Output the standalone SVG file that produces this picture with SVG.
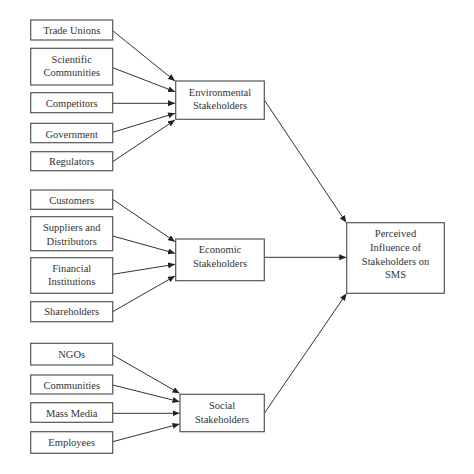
<svg xmlns="http://www.w3.org/2000/svg" width="474" height="474" viewBox="0 0 474 474">
<defs>
<marker id="ah" markerWidth="7" markerHeight="6" refX="7" refY="3" orient="auto" markerUnits="userSpaceOnUse">
<path d="M0,0 L7,3 L0,6 Z" fill="#222"/>
</marker>
<style>
rect{fill:#fff;stroke:#555;stroke-width:1.2}
text{font-family:"Liberation Serif","Times New Roman",serif;font-size:10.5px;fill:#333;text-anchor:middle}
#connectors line{stroke:#333;stroke-width:1;marker-end:url(#ah)}
</style>
</defs>
<rect x="0" y="0" width="474" height="474" style="fill:#fff;stroke:none"/>
<g id="connectors">
<line x1="112.7" y1="30.7" x2="175" y2="81"/>
<line x1="112.7" y1="67.7" x2="175" y2="91.7"/>
<line x1="112.7" y1="103.3" x2="175" y2="103.3"/>
<line x1="112.7" y1="132.3" x2="175" y2="113.3"/>
<line x1="112.7" y1="161.7" x2="175" y2="120"/>
<line x1="112.7" y1="199.3" x2="175" y2="241.7"/>
<line x1="112.7" y1="236" x2="175" y2="253.3"/>
<line x1="112.7" y1="274.3" x2="175" y2="264.3"/>
<line x1="112.7" y1="311.7" x2="175" y2="276"/>
<line x1="112.7" y1="355" x2="179.5" y2="393.3"/>
<line x1="112.7" y1="385" x2="179.5" y2="401.7"/>
<line x1="112.7" y1="413.3" x2="179.5" y2="413.3"/>
<line x1="112.7" y1="441.7" x2="179.5" y2="424"/>
<line x1="264.3" y1="100" x2="346.2" y2="222.5"/>
<line x1="264.3" y1="257.3" x2="346.2" y2="257.3"/>
<line x1="264.3" y1="413.3" x2="346.5" y2="293.5"/>
</g>
<g id="trade-unions"><rect x="30.7" y="20" width="82" height="20"/><text x="71.7" y="34">Trade Unions</text></g>
<g id="scientific-communities"><rect x="30.7" y="48.3" width="82" height="36.7"/><text x="71.7" y="63">Scientific</text><text x="71.7" y="76.3">Communities</text></g>
<g id="competitors"><rect x="30.7" y="92.7" width="82" height="20"/><text x="71.7" y="107">Competitors</text></g>
<g id="government"><rect x="30.7" y="123.3" width="82" height="19.4"/><text x="71.7" y="137.5">Government</text></g>
<g id="regulators"><rect x="30.7" y="151.7" width="82" height="19"/><text x="71.7" y="165">Regulators</text></g>
<g id="environmental"><rect x="175.7" y="81" width="88.6" height="38.3"/><text x="220" y="96">Environmental</text><text x="220" y="109">Stakeholders</text></g>
<g id="customers"><rect x="30.7" y="190" width="82" height="19.3"/><text x="71.7" y="203.5">Customers</text></g>
<g id="suppliers"><rect x="30.7" y="216.7" width="82" height="34"/><text x="71.7" y="231">Suppliers and</text><text x="71.7" y="244.5">Distributors</text></g>
<g id="financial"><rect x="30.7" y="257.7" width="82" height="35.6"/><text x="71.7" y="272">Financial</text><text x="71.7" y="285">Institutions</text></g>
<g id="shareholders"><rect x="30.7" y="301.7" width="82" height="20"/><text x="71.7" y="315">Shareholders</text></g>
<g id="economic"><rect x="175.7" y="239" width="88.6" height="41.7"/><text x="220" y="253">Economic</text><text x="220" y="266.5">Stakeholders</text></g>
<g id="ngos"><rect x="30.7" y="343.3" width="82" height="21.7"/><text x="71.7" y="357.5">NGOs</text></g>
<g id="communities"><rect x="30.7" y="375" width="82" height="19"/><text x="71.7" y="388.5">Communities</text></g>
<g id="mass-media"><rect x="30.7" y="402.7" width="82" height="19.6"/><text x="71.7" y="416.5">Mass Media</text></g>
<g id="employees"><rect x="30.7" y="431.7" width="82" height="21.6"/><text x="71.7" y="445.5">Employees</text></g>
<g id="social"><rect x="180" y="394.3" width="84.3" height="37.4"/><text x="222" y="408.5">Social</text><text x="222" y="422.5">Stakeholders</text></g>
<g id="perceived"><rect x="346.7" y="222.7" width="97.6" height="70.6"/><text x="395.5" y="236.5">Perceived</text><text x="395.5" y="250.5">Influence of</text><text x="395.5" y="264.5">Stakeholders on</text><text x="395.5" y="278">SMS</text></g>
</svg>
